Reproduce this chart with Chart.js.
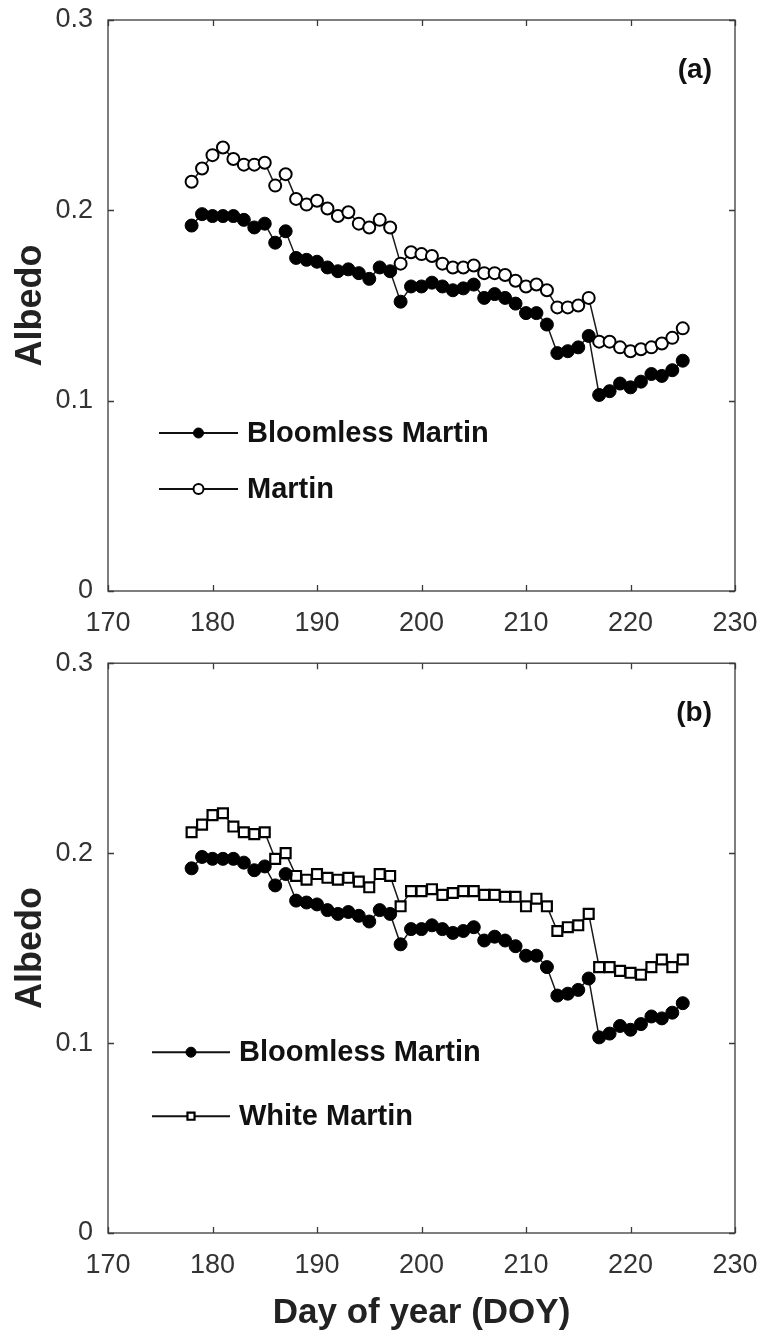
<!DOCTYPE html>
<html>
<head>
<meta charset="utf-8">
<script src="https://cdn.jsdelivr.net/npm/chart.js@4/dist/chart.umd.min.js"></script>
<style>
  html, body { margin: 0; padding: 0; background: #fff; }
  #wrap { position: relative; width: 764px; height: 1334px; }
  #topBox { position: absolute; left: 0; top: 0; }
  #botBox { position: absolute; left: 0; top: 645px; }
</style>
</head>
<body>
<div id="wrap">
  <div id="topBox"><canvas id="chartA" width="764" height="645"></canvas></div>
  <div id="botBox"><canvas id="chartB" width="764" height="689"></canvas></div>
</div>
<script>
// day of year
const days = [178, 179, 180, 181, 182, 183, 184, 185, 186, 187, 188, 189, 190, 191, 192, 193,
  194, 195, 196, 197, 198, 199, 200, 201, 202, 203, 204, 205, 206, 207, 208, 209,
  210, 211, 212, 213, 214, 215, 216, 217, 218, 219, 220, 221, 222, 223, 224, 225];

const bloomless = [0.192, 0.198, 0.197, 0.197, 0.197, 0.195, 0.191, 0.193, 0.183, 0.189, 0.175, 0.174,
  0.173, 0.170, 0.168, 0.169, 0.167, 0.164, 0.170, 0.168, 0.152, 0.160, 0.160, 0.162,
  0.160, 0.158, 0.159, 0.161, 0.154, 0.156, 0.154, 0.151, 0.146, 0.146, 0.140, 0.125,
  0.126, 0.128, 0.134, 0.103, 0.105, 0.109, 0.107, 0.110, 0.114, 0.113, 0.116, 0.121];

const martin = [0.215, 0.222, 0.229, 0.233, 0.227, 0.224, 0.224, 0.225, 0.213, 0.219, 0.206, 0.203,
  0.205, 0.201, 0.197, 0.199, 0.193, 0.191, 0.195, 0.191, 0.172, 0.178, 0.177, 0.176,
  0.172, 0.170, 0.170, 0.171, 0.167, 0.167, 0.166, 0.163, 0.160, 0.161, 0.158, 0.149,
  0.149, 0.150, 0.154, 0.131, 0.131, 0.128, 0.126, 0.127, 0.128, 0.130, 0.133, 0.138];

const whiteMartin = [0.211, 0.215, 0.220, 0.221, 0.214, 0.211, 0.210, 0.211, 0.197, 0.200, 0.188, 0.186,
  0.189, 0.187, 0.186, 0.187, 0.185, 0.182, 0.189, 0.188, 0.172, 0.180, 0.180, 0.181,
  0.178, 0.179, 0.180, 0.180, 0.178, 0.178, 0.177, 0.177, 0.172, 0.176, 0.172, 0.159,
  0.161, 0.162, 0.168, 0.140, 0.140, 0.138, 0.137, 0.136, 0.140, 0.144, 0.140, 0.144];

const xTicks = [170, 180, 190, 200, 210, 220, 230];
const yTicks = [0, 0.1, 0.2, 0.3];

const FONT = "'Liberation Sans', Arial, sans-serif";

function pts(vals) {
  return days.map((d, i) => ({ x: d, y: vals[i] }));
}

// frame, inward ticks, panel letter and the line+marker legend
const framePlugin = {
  id: 'frame',
  afterDraw(chart, args, opts) {
    const ctx = chart.ctx;
    const a = chart.chartArea;
    const xs = chart.scales.x, ys = chart.scales.y;
    const t = 6;
    ctx.save();
    ctx.strokeStyle = '#3a3a3a';
    ctx.lineWidth = 1.3;
    ctx.strokeRect(a.left, a.top, a.right - a.left, a.bottom - a.top);
    ctx.beginPath();
    xTicks.forEach(v => {
      const px = Math.round(xs.getPixelForValue(v)) + 0.5;
      ctx.moveTo(px, a.bottom); ctx.lineTo(px, a.bottom - t);
      ctx.moveTo(px, a.top); ctx.lineTo(px, a.top + t);
    });
    yTicks.forEach(v => {
      const py = Math.round(ys.getPixelForValue(v)) + 0.5;
      ctx.moveTo(a.left, py); ctx.lineTo(a.left + t, py);
      ctx.moveTo(a.right, py); ctx.lineTo(a.right - t, py);
    });
    ctx.stroke();

    ctx.fillStyle = '#111';
    ctx.font = 'bold 28px ' + FONT;
    ctx.textAlign = 'right';
    ctx.textBaseline = 'middle';
    ctx.fillText(opts.tag, a.right - 23, a.top + opts.tagY);

    const lg = opts.legend;
    chart.data.datasets.forEach((ds, i) => {
      const y = a.top + lg.y + i * lg.gap;
      const x0 = a.left + lg.x;
      ctx.strokeStyle = '#111';
      ctx.lineWidth = 2;
      ctx.beginPath();
      ctx.moveTo(x0, y); ctx.lineTo(x0 + lg.len, y);
      ctx.stroke();
      ctx.fillStyle = ds.pointBackgroundColor;
      ctx.strokeStyle = ds.pointBorderColor;
      ctx.lineWidth = ds.pointBorderWidth;
      Chart.helpers.drawPoint(ctx, {
        pointStyle: ds.pointStyle, rotation: 0,
        radius: lg.r, borderWidth: ds.pointBorderWidth
      }, x0 + lg.len / 2, y);
      ctx.fillStyle = '#111';
      ctx.font = 'bold 29px ' + FONT;
      ctx.textAlign = 'left';
      ctx.fillText(ds.label, x0 + lg.len + 9, y + 1);
    });
    ctx.restore();
  }
};

// invisible tick marks push the labels out without padding the chart area
const hiddenTicks = len => ({
  display: true, drawOnChartArea: false, drawTicks: true,
  tickLength: len, color: 'rgba(0,0,0,0)'
});

function makeChart(id, datasets, o) {
  return new Chart(document.getElementById(id), {
    type: 'line',
    data: { datasets: datasets },
    options: {
      responsive: false,
      animation: false,
      devicePixelRatio: 1,
      layout: { padding: { left: 0, right: 29, top: o.top, bottom: 0 } },
      plugins: {
        legend: { display: false },
        tooltip: { enabled: false },
        frame: { tag: o.tag, tagY: o.tagY, legend: o.legend }
      },
      scales: {
        x: {
          type: 'linear', min: 170, max: 230,
          afterBuildTicks: s => { s.ticks = xTicks.map(v => ({ value: v })); },
          afterFit: s => { s.height = o.xHeight; },
          grid: hiddenTicks(14),
          border: { display: false },
          ticks: {
            autoSkip: false, maxRotation: 0, padding: 2,
            color: '#333', font: { family: FONT, size: 27 }
          },
          title: {
            display: !!o.xTitle, text: o.xTitle || '',
            color: '#222', font: { family: FONT, size: 35, weight: 'bold' },
            padding: { top: 19, bottom: 0 }
          }
        },
        y: {
          min: 0, max: 0.3,
          afterBuildTicks: s => { s.ticks = yTicks.map(v => ({ value: v })); },
          afterFit: s => { s.width = 108; },
          grid: hiddenTicks(13),
          border: { display: false },
          ticks: {
            padding: 2, color: '#333', font: { family: FONT, size: 27 },
            callback: v => String(v)
          },
          title: {
            display: true, text: 'Albedo',
            color: '#222', font: { family: FONT, size: 36, weight: 'bold' },
            padding: { top: 9, bottom: 0 }
          }
        }
      }
    },
    plugins: [framePlugin]
  });
}

const lineStyle = { borderColor: '#1a1a1a', borderWidth: 1.5, tension: 0, showLine: true };

const bloomlessSet = () => Object.assign({
  label: 'Bloomless Martin', data: pts(bloomless),
  pointStyle: 'circle', pointRadius: 6.5,
  pointBackgroundColor: '#000', pointBorderColor: '#000', pointBorderWidth: 1
}, lineStyle);

makeChart('chartA', [
  bloomlessSet(),
  Object.assign({
    label: 'Martin', data: pts(martin),
    pointStyle: 'circle', pointRadius: 6,
    pointBackgroundColor: '#fff', pointBorderColor: '#000', pointBorderWidth: 2
  }, lineStyle)
], {
  top: 20, xHeight: 54, tag: '(a)', tagY: 50,
  legend: { x: 51, y: 413, gap: 56, len: 79, r: 5 }
});

makeChart('chartB', [
  bloomlessSet(),
  Object.assign({
    label: 'White Martin', data: pts(whiteMartin),
    pointStyle: 'rect', pointRadius: 7,
    pointBackgroundColor: '#fff', pointBorderColor: '#000', pointBorderWidth: 2.2
  }, lineStyle)
], {
  top: 17, xHeight: 101, xTitle: 'Day of year (DOY)', tag: '(b)', tagY: 50,
  legend: { x: 44, y: 389, gap: 64, len: 78, r: 5 }
});
</script>
</body>
</html>
